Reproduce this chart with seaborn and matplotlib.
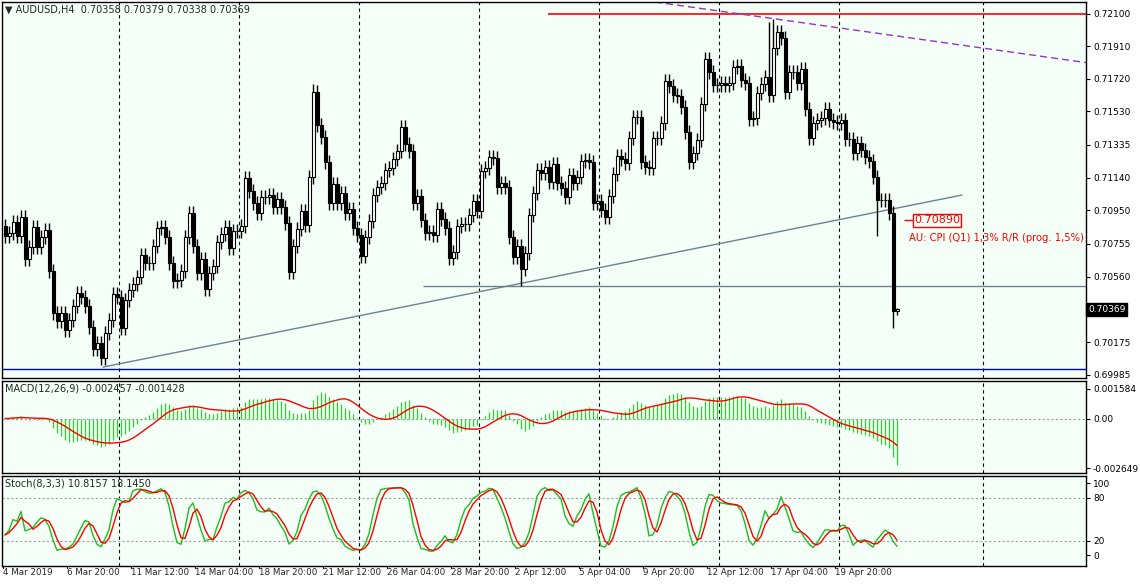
import numpy as np
import pandas as pd
import matplotlib
matplotlib.use("Agg")
import matplotlib.pyplot as plt
import seaborn as sns

sns.set_style("white")
plt.rcParams['font.family'] = ['DejaVu Sans']

closes = [
 .70799,.70817,.70881,.70799,.70910,.70664,.70735,.70852,.70735,.70793,
 .70834,.70594,.70348,.70301,.70348,.70249,.70307,.70389,.70465,.70442,
 .70389,.70266,.70137,.70172,.70084,.70231,.70307,.70459,.70442,.70261,
 .70424,.70483,.70518,.70559,.70688,.70641,.70641,.70740,.70846,.70852,
 .70793,.70641,.70535,.70541,.70594,.70793,.70934,.70740,.70582,.70664,
 .70489,.70582,.70623,.70764,.70811,.70852,.70729,.70828,.70828,.70858,
 .71139,.71063,.70992,.70934,.71028,.71028,.71039,.70969,.71016,.70969,
 .70875,.70588,.70740,.70840,
 .70945,.70864,.71145,.71643,.71450,.71379,.71233,.70992,.71104,.70992,
 .71051,.70934,.70957,.70846,.70805,.70682,.70793,.70887,.71039,.71086,
 .71110,.71186,.71198,.71250,.71297,.71438,.71338,.71297,.70992,.71033,
 .70893,.70817,.70822,.70805,.70957,.70899,.70846,.70670,.70705,.70858,
 .70869,.70869,.70922,.71004,.70945,.71180,.71198,.71262,.71256,.71086,
 .71110,.71086,.70793,.70676,.70740,.70606,.70699,.70922,.71051,.71186,
 .71168,.71203,.71116,.71221,.71110,.71080,.71028,.71157,.71110,.71145,
 .71239,.71244,.71233,
 .70992,.71004,.70951,.70910,.71033,.71162,.71268,.71250,.71227,.71373,
 .71496,.71496,.71233,.71203,.71198,.71373,.71373,.71461,.71707,.71678,
 .71625,.71619,.71555,.71409,.71233,.71285,.71362,.71573,.71836,.71760,
 .71684,.71684,.71696,.71684,.71696,.71789,.71795,.71713,.71696,.71485,
 .71491,.71637,.71690,.71731,.71625,.71901,.71994,.71959,.71643,.71760,
 .71760,.71696,.71778,.71543,.71373,.71461,.71479,.71491,.71543,.71479,
 .71467,.71461,.71479,.71367,.71367,.71285,.71344,.71303,.71262,.71239,
 .71145,.71010,.71010,.71010,.70934,.70358,.70369]
first_open = 0.70860
wick = 0.00040
high_over = {77: 0.71690, 191: 0.72050, 192: 0.72070, 223: 0.70379}
low_over = {24: 0.70043, 129: 0.70507, 218: 0.70799, 222: 0.70262, 223: 0.70338}

right_ticks = [0.72100,0.71910,0.71720,0.71530,0.71335,0.71140,0.70950,0.70755,0.70560,0.70175,0.69985]
date_labels = ["4 Mar 2019","6 Mar 20:00","11 Mar 12:00","14 Mar 04:00","18 Mar 20:00","21 Mar 12:00",
               "26 Mar 04:00","28 Mar 20:00","2 Apr 12:00","5 Apr 04:00","9 Apr 20:00","12 Apr 12:00",
               "17 Apr 04:00","19 Apr 20:00"]
grid_x = [28.6,58.6,88.6,118.6,148.6,178.6,208.6,244.6]

c = np.array(closes)
n = len(c)
o = np.concatenate([[first_open], c[:-1]])
h = np.maximum(o, c) + wick
l = np.minimum(o, c) - wick
for k, v in high_over.items(): h[k] = v
for k, v in low_over.items(): l[k] = v
idx = np.arange(n)

s = pd.Series(c)
macd = s.ewm(span=12, adjust=False).mean() - s.ewm(span=26, adjust=False).mean()
sig = macd.rolling(9, min_periods=1).mean()
hh = pd.Series(h).rolling(8, min_periods=1).max()
ll = pd.Series(l).rolling(8, min_periods=1).min()
K = 100 * (s - ll).rolling(3, min_periods=1).sum() / (hh - ll).rolling(3, min_periods=1).sum()
D = K.rolling(3, min_periods=1).mean()

W, H = 1140, 584
fig = plt.figure(figsize=(11.4, 5.84), dpi=100)
fig.patch.set_facecolor('white')
bg = '#F3FFF7'
def mk(top, bot):
    return fig.add_axes([2/W, 1-bot/H, (1086-2)/W, (bot-top)/H], facecolor=bg)
ax = mk(2, 378); axm = mk(381, 473); axs = mk(476, 566)
xl = (-0.75, 270.25)
for a in (ax, axm, axs):
    a.set_xlim(*xl)
    a.set_xticks([])
    for sp in a.spines.values():
        sp.set_color('black'); sp.set_linewidth(1)
    for gx in grid_x:
        a.axvline(gx, color='black', ls=(0, (3, 3)), lw=0.8, zorder=0)
    a.yaxis.tick_right()
    a.tick_params(axis='y', length=3, labelsize=6.5, pad=2, colors='black')

ax.set_ylim(0.69967, 0.72170)
ax.vlines(idx, l, h, color='black', lw=1, zorder=3)
up = c >= o
bh = np.maximum(np.abs(c - o), 0.00002)
ax.bar(idx[up], bh[up], bottom=np.minimum(o, c)[up], width=0.75, color='white', edgecolor='black', lw=0.8, zorder=4)
ax.bar(idx[~up], bh[~up], bottom=np.minimum(o, c)[~up], width=0.75, color='black', edgecolor='black', lw=0.8, zorder=4)
ax.set_yticks(right_ticks)
ax.set_yticklabels([f"{v:.5f}" for v in right_ticks])
ax.hlines(0.72100, 135.75, xl[1], color='red', lw=1.2, zorder=2)
ax.axhline(0.70020, color='#0000CC', lw=1, zorder=2)
ax.hlines(0.70507, 104.5, xl[1], color='#708090', lw=1, zorder=2)
ax.plot([24.5, 239.25], [0.70031, 0.71039], color='#708090', lw=1, zorder=2)
ax.plot([162.5, xl[1]], [0.72170, 0.71815], color='#9932CC', lw=1, ls=(0, (5, 3)), zorder=2)
ax.hlines(0.70890, 224.75, 227, color='red', lw=1)
ax.text(227.3, 0.70890, "0.70890", color='red', fontsize=8, va='center', ha='left',
        bbox=dict(boxstyle='square,pad=0.1', fc=bg, ec='red', lw=1))
ax.text(226, 0.70785, "AU: CPI (Q1) 1,3% R/R (prog. 1,5%)", color='red', fontsize=7.2, va='center', ha='left')
ax.text(1.002, 0.70369, "0.70369", transform=ax.get_yaxis_transform(), color='white', fontsize=6.5,
        va='center', ha='left', bbox=dict(boxstyle='square,pad=0.2', fc='black', ec='black'), clip_on=False)
ax.text(0.003, 0.992, "▼ AUDUSD,H4  0.70358 0.70379 0.70338 0.70369", transform=ax.transAxes,
        fontsize=7, va='top', ha='left')

axm.set_ylim(-0.00290, 0.00200)
axm.vlines(idx, 0, macd, color='#32CD32', lw=0.9, zorder=2)
axm.axhline(0, color='#A0A0A0', ls=(0, (2, 2)), lw=0.8, zorder=1)
sns.lineplot(x=idx, y=sig.values, ax=axm, color='red', lw=1, zorder=3)
axm.set_yticks([0.001584, 0.0, -0.002649])
axm.set_yticklabels(["0.001584", "0.00", "-0.002649"])
axm.text(0.003, 0.97, "MACD(12,26,9) -0.002457 -0.001428", transform=axm.transAxes, fontsize=7, va='top')

axs.set_ylim(-14.5, 109.7)
for lv in (20, 80):
    axs.axhline(lv, color='#A0A0A0', ls=(0, (2, 2)), lw=0.8, zorder=1)
sns.lineplot(x=idx, y=K.values, ax=axs, color='#22BB22', lw=1, zorder=3)
sns.lineplot(x=idx, y=D.values, ax=axs, color='red', lw=1, zorder=4)
axs.set_yticks([100, 80, 20, 0])
axs.set_yticklabels(["100", "80", "20", "0"])
axs.text(0.003, 0.97, "Stoch(8,3,3) 10.8157 18.1450", transform=axs.transAxes, fontsize=7, va='top')

for k, lab in enumerate(date_labels):
    xi = -0.5 + 16 * k
    axs.plot([xi, xi], [-14.5, -17], color='black', lw=0.8, clip_on=False)
    axs.text(xi, -17, lab, fontsize=6.3, va='top', ha='left', clip_on=False)

fig.savefig("out.png", dpi=100, facecolor='white')
